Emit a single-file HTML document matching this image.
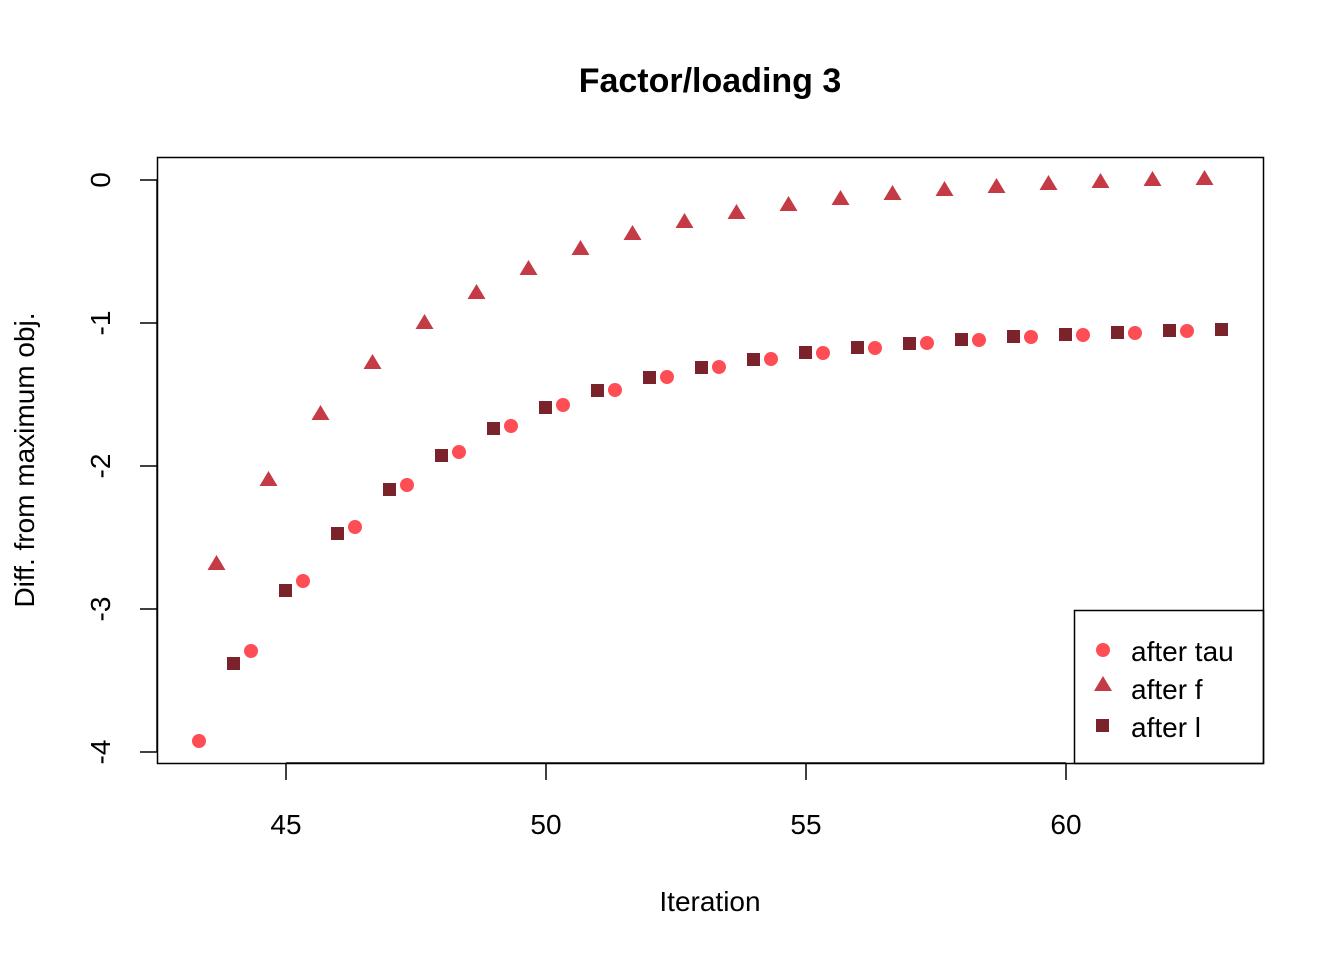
<!DOCTYPE html>
<html><head><meta charset="utf-8"><style>body{margin:0;background:#fff}</style></head><body>
<svg width="1344" height="960" xmlns="http://www.w3.org/2000/svg" font-family="Liberation Sans, Arial, sans-serif">
<rect width="1344" height="960" fill="#fff"/>
<text x="710" y="92" text-anchor="middle" font-size="34" font-weight="bold">Factor/loading 3</text>
<rect x="157.5" y="157.5" width="1106" height="606" fill="none" stroke="#000" stroke-width="1.5"/>
<g stroke="#000" stroke-width="1.5">
<line x1="286" y1="763" x2="1066" y2="763"/>
<line x1="286" y1="763" x2="286" y2="780"/><line x1="546" y1="763" x2="546" y2="780"/><line x1="806" y1="763" x2="806" y2="780"/><line x1="1066" y1="763" x2="1066" y2="780"/>
<line x1="157" y1="180" x2="157" y2="752"/>
<line x1="157" y1="180" x2="140" y2="180"/><line x1="157" y1="323" x2="140" y2="323"/><line x1="157" y1="466" x2="140" y2="466"/><line x1="157" y1="609" x2="140" y2="609"/><line x1="157" y1="752" x2="140" y2="752"/>
</g>
<g font-size="28" text-anchor="middle">
<text x="286" y="834">45</text><text x="546" y="834">50</text><text x="806" y="834">55</text><text x="1066" y="834">60</text>
<text transform="translate(110,180) rotate(-90)">0</text>
<text transform="translate(110,323) rotate(-90)">-1</text>
<text transform="translate(110,466) rotate(-90)">-2</text>
<text transform="translate(110,609) rotate(-90)">-3</text>
<text transform="translate(110,752) rotate(-90)">-4</text>
<text x="710" y="911">Iteration</text>
<text transform="translate(34,460) rotate(-90)">Diff. from maximum obj.</text>
</g>
<g fill="#FF4D55">
<circle cx="199" cy="741" r="7"/><circle cx="251" cy="651" r="7"/><circle cx="303" cy="581" r="7"/><circle cx="355" cy="527" r="7"/><circle cx="407" cy="485" r="7"/><circle cx="459" cy="452" r="7"/><circle cx="511" cy="426" r="7"/><circle cx="563" cy="405" r="7"/><circle cx="615" cy="390" r="7"/><circle cx="667" cy="377" r="7"/><circle cx="719" cy="367" r="7"/><circle cx="771" cy="359" r="7"/><circle cx="823" cy="353" r="7"/><circle cx="875" cy="348" r="7"/><circle cx="927" cy="343" r="7"/><circle cx="979" cy="340" r="7"/><circle cx="1031" cy="337" r="7"/><circle cx="1083" cy="335" r="7"/><circle cx="1135" cy="333" r="7"/><circle cx="1187" cy="331" r="7"/>
<circle cx="1103" cy="650" r="7"/>
</g>
<g fill="#C53B45">
<path d="M216.5 555l9 15h-18z"/><path d="M268.5 471l9 15h-18z"/><path d="M320.5 405l9 15h-18z"/><path d="M372.5 354l9 15h-18z"/><path d="M424.5 314l9 15h-18z"/><path d="M476.5 284l9 15h-18z"/><path d="M528.5 260l9 15h-18z"/><path d="M580.5 240l9 15h-18z"/><path d="M632.5 225l9 15h-18z"/><path d="M684.5 213l9 15h-18z"/><path d="M736.5 204l9 15h-18z"/><path d="M788.5 196l9 15h-18z"/><path d="M840.5 190l9 15h-18z"/><path d="M892.5 185l9 15h-18z"/><path d="M944.5 181l9 15h-18z"/><path d="M996.5 178l9 15h-18z"/><path d="M1048.5 175l9 15h-18z"/><path d="M1100.5 173l9 15h-18z"/><path d="M1152.5 171l9 15h-18z"/><path d="M1204.5 170l9 15h-18z"/>
<path d="M1103 676l9 15h-18z"/>
</g>
<g fill="#7B232B">
<rect x="227" y="657" width="13" height="13"/><rect x="279" y="584" width="13" height="13"/><rect x="331" y="527" width="13" height="13"/><rect x="383" y="483" width="13" height="13"/><rect x="435" y="449" width="13" height="13"/><rect x="487" y="422" width="13" height="13"/><rect x="539" y="401" width="13" height="13"/><rect x="591" y="384" width="13" height="13"/><rect x="643" y="371" width="13" height="13"/><rect x="695" y="361" width="13" height="13"/><rect x="747" y="353" width="13" height="13"/><rect x="799" y="346" width="13" height="13"/><rect x="851" y="341" width="13" height="13"/><rect x="903" y="337" width="13" height="13"/><rect x="955" y="333" width="13" height="13"/><rect x="1007" y="330" width="13" height="13"/><rect x="1059" y="328" width="13" height="13"/><rect x="1111" y="326" width="13" height="13"/><rect x="1163" y="324" width="13" height="13"/><rect x="1215" y="323" width="13" height="13"/>
<rect x="1096" y="719" width="13" height="13"/>
</g>
<rect x="1074.5" y="610.5" width="189" height="153" fill="none" stroke="#000" stroke-width="1.5"/>
<g font-size="28">
<text x="1131" y="661">after tau</text>
<text x="1131" y="699">after f</text>
<text x="1131" y="737">after l</text>
</g>
</svg>
</body></html>
